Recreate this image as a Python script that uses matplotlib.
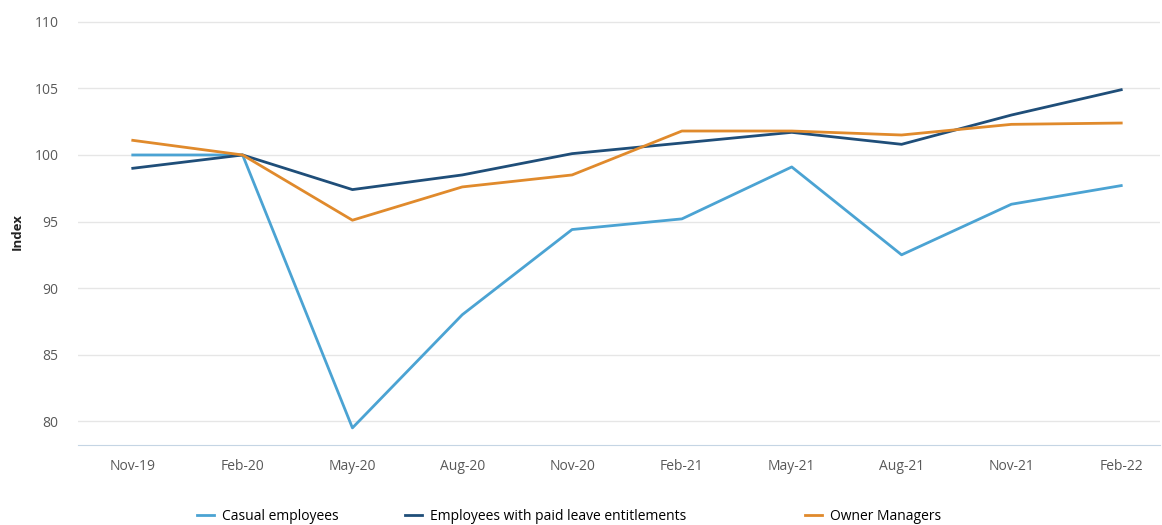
import matplotlib
matplotlib.use('Agg')
import matplotlib.pyplot as plt

plt.rcParams['font.family'] = ['Open Sans', 'DejaVu Sans']

quarters = ['Nov-19', 'Feb-20', 'May-20', 'Aug-20', 'Nov-20', 'Feb-21', 'May-21', 'Aug-21', 'Nov-21', 'Feb-22']
casual = [100.0, 100.0, 79.5, 88.0, 94.4, 95.2, 99.1, 92.5, 96.3, 97.7]
paidLeave = [99.0, 100.0, 97.4, 98.5, 100.1, 100.9, 101.7, 100.8, 103.0, 104.9]
ownerManagers = [101.1, 100.0, 95.1, 97.6, 98.5, 101.8, 101.8, 101.5, 102.3, 102.4]

fig = plt.figure(figsize=(11.62, 5.25), dpi=100)
ax = fig.add_axes([0.067, 0.152, 0.931, 0.814])

x = range(len(quarters))
l1, = ax.plot(x, casual, color='#4BA3D3', lw=2, label='Casual employees', zorder=3)
l2, = ax.plot(x, paidLeave, color='#1F4E79', lw=2, label='Employees with paid leave entitlements', zorder=3)
l3, = ax.plot(x, ownerManagers, color='#E08A2C', lw=2, label='Owner Managers', zorder=3)

ax.set_xlim(-0.5, 9.35)
ax.set_ylim(78.2, 110.3)
ax.set_yticks([80, 85, 90, 95, 100, 105, 110])
ax.set_xticks(list(x))
ax.set_xticklabels(quarters)
ax.grid(True, axis='y', color='#E6E6E6', lw=1, zorder=0)
for s in ['top', 'right', 'left']:
	ax.spines[s].set_visible(False)
ax.spines['bottom'].set_color('#C5D5E4')
ax.tick_params(axis='both', length=0, labelsize=10, colors='#595959', pad=10)
ax.tick_params(axis='y', pad=14)
ax.set_ylabel('Index', fontsize=9.5, fontweight='bold', color='#222222', labelpad=8)

# legend items are not evenly spaced in the original, so one legend each
for line, xpos in [(l1, 197), (l2, 405), (l3, 805)]:
	fig.legend(handles=[line], loc='center left', bbox_to_anchor=(xpos / 1162, 9 / 525),
		frameon=False, fontsize=10, handlelength=1.2, handletextpad=0.6,
		borderpad=0, borderaxespad=0)

fig.savefig('out.png', dpi=100)
